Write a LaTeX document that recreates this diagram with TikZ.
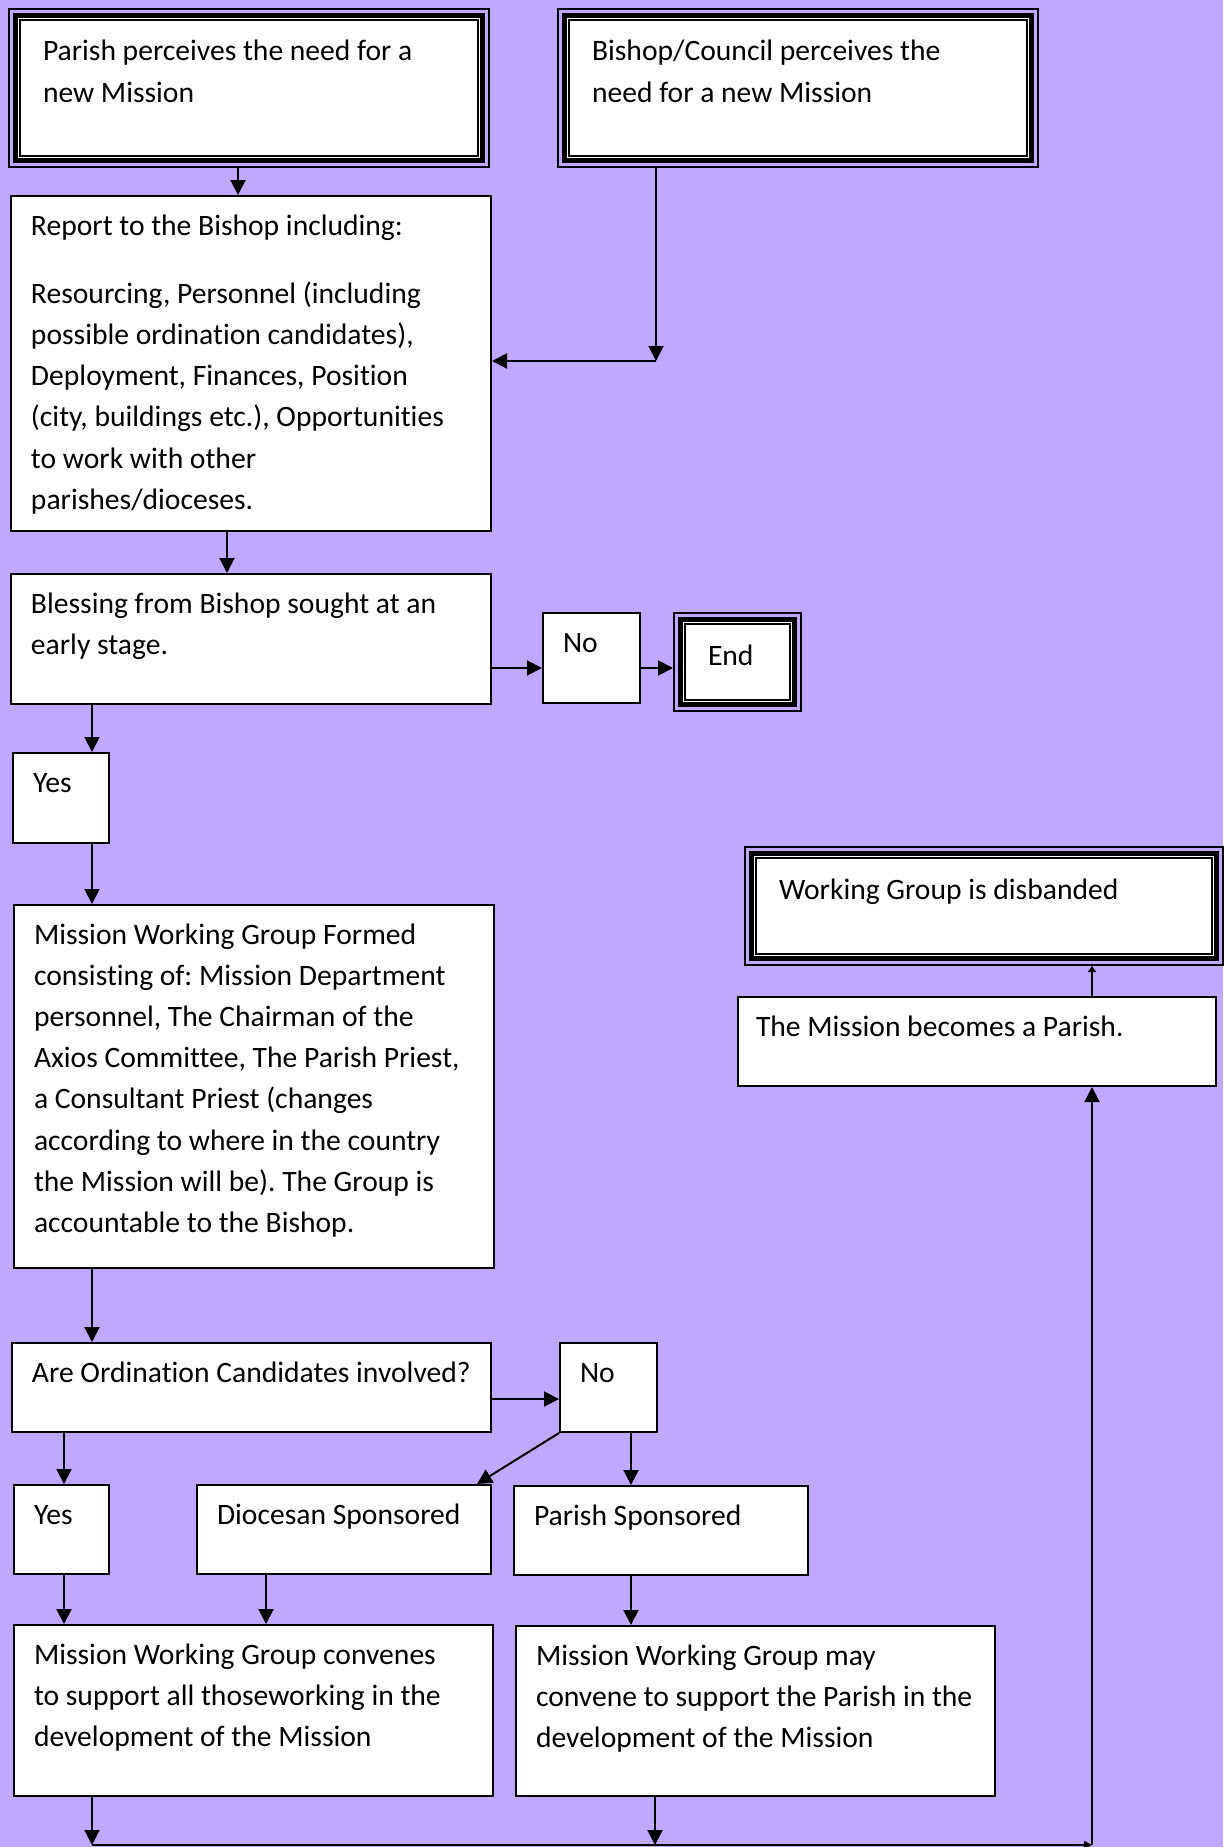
\documentclass[tikz,border=0pt]{standalone}
\usepackage{fontspec}
\setmainfont{Carlito}[Ligatures=NoCommon]
\usetikzlibrary{arrows.meta}
\definecolor{lilac}{RGB}{192,168,255}
\frenchspacing
\begin{document}
\begin{tikzpicture}[x=0.5pt,y=-0.5pt,line width=1pt,
    >={Triangle[length=7.5pt,width=7.5pt]},
    box/.style={draw, fill=white, anchor=north west, align=flush left,
        inner xsep=10pt, inner ysep=0pt, text height=19.5pt,
        font=\fontsize{14.8pt}{20.6pt}\selectfont},
    frame/.style={box, fill=none, inner xsep=17pt, text height=26pt,
        path picture={
            \draw[line width=2.5pt, fill=white] ([shift={(3.2pt,-3.2pt)}]path picture bounding box.north west) rectangle ([shift={(-3.2pt,3.2pt)}]path picture bounding box.south east);
            \draw ([shift={(5.7pt,-5.7pt)}]path picture bounding box.north west) rectangle ([shift={(-5.7pt,5.7pt)}]path picture bounding box.south east);
        }}]
    \useasboundingbox (0,0) rectangle (1223,1847);
    \fill [lilac] (0,0) rectangle (1223,1847);

    \node [frame, text width=206pt, text depth=53pt] (par) at (8,8) {Parish perceives the need for a\\new Mission};
    \node [frame, text width=206pt, text depth=53pt] (bish) at (557,8) {Bishop/Council perceives the\\need for a new Mission};
    \node [box, text width=220pt, text depth=148pt] (rep) at (10,195) {Report to the Bishop including:\\[13.5pt]Resourcing, Personnel (including\\possible ordination candidates),\\Deployment, Finances, Position\\(city, buildings etc.), Opportunities\\to work with other\\parishes/dioceses.};
    \node [box, text width=220pt, text depth=45.5pt] (bless) at (10,573) {Blessing from Bishop sought at an\\early stage.};
    \node [box, text width=28.5pt, text depth=25.5pt] (no1) at (542,612) {No};
    \node [frame, text width=29.5pt, text depth=23pt] (fin) at (673,612) {End};
    \node [box, text width=28pt, text depth=25.5pt] (yes1) at (12,752) {Yes};
    \node [box, text width=220pt, text depth=162pt] (mwg) at (13,904) {Mission Working Group Formed\\consisting of: Mission Department\\personnel, The Chairman of the\\Axios Committee, The Parish Priest,\\a Consultant Priest (changes\\according to where in the country\\the Mission will be). The Group is\\accountable to the Bishop.};
    \node [frame, text width=205pt, text depth=33pt] (disb) at (744,846) {Working Group is disbanded};
    \node [box, inner xsep=9pt, text width=221pt, text depth=25pt] (parb) at (737,996) {The Mission becomes a Parish.};
    \node [box, text width=219.5pt, text depth=25pt] (ord) at (11,1342) {\mbox{Are Ordination Candidates involved?}};
    \node [box, text width=28.5pt, text depth=25pt] (no2) at (559,1342) {No};
    \node [box, text width=27.5pt, text depth=25pt] (yes2) at (13,1484) {Yes};
    \node [box, text width=127pt, text depth=25pt] (dio) at (196,1484) {Diocesan Sponsored};
    \node [box, text width=127pt, text depth=25pt] (pspo) at (513,1485) {Parish Sponsored};
    \node [box, text width=219.5pt, text depth=66pt] (conv) at (13,1624) {Mission Working Group convenes\\to support all thoseworking in the\\development of the Mission};
    \node [box, text width=219.5pt, text depth=65.5pt] (may) at (515,1625) {Mission Working Group may\\\mbox{convene to support the Parish in the}\\development of the Mission};

    \coordinate (j1) at (656,361);
    \coordinate (h1) at (0,668);
    \coordinate (h2) at (0,1399);
    \coordinate (v1) at (92,0);
    \coordinate (v2) at (64,0);
    \coordinate (v3) at (631,0);
    \coordinate (v4) at (266,0);
    \coordinate (v5) at (227,0);
    \coordinate (v6) at (238,0);
    \coordinate (c1) at (92,1845);
    \coordinate (c2) at (655,1845);
    \coordinate (c3) at (1092,1845);

    \draw [->] (v6 |- par.south) -- (v6 |- rep.north);
    \draw [->] (j1 |- bish.south) -- (j1);
    \draw [->] (j1) -- (rep.east |- j1);
    \draw [->] (v5 |- rep.south) -- (v5 |- bless.north);
    \draw [->] (bless.east |- h1) -- (no1.west |- h1);
    \draw [->] (no1.east |- h1) -- (fin.west |- h1);
    \draw [->] (v1 |- bless.south) -- (v1 |- yes1.north);
    \draw [->] (v1 |- yes1.south) -- (v1 |- mwg.north);
    \draw [->] (v1 |- mwg.south) -- (v1 |- ord.north);
    \draw [->] (ord.east |- h2) -- (no2.west |- h2);
    \draw [->] (v2 |- ord.south) -- (v2 |- yes2.north);
    \draw [->] (no2.south west) -- ([xshift=-7.5pt]dio.north east);
    \draw [->] (v3 |- no2.south) -- (v3 |- pspo.north);
    \draw [->] (v2 |- yes2.south) -- (v2 |- conv.north);
    \draw [->] (v4 |- dio.south) -- (v4 |- conv.north);
    \draw [->] (v3 |- pspo.south) -- (v3 |- may.north);
    \draw [->] (conv.south -| c1) -- (c1);
    \draw [->] (may.south -| c2) -- (c2);
    \draw [-{Triangle[length=4pt,width=4pt]}] (c1) -- (c3);
    \draw [->] (c3) -- (c3 |- parb.south);
    \draw [-{Triangle[length=3pt,width=4pt]}] (c3 |- parb.north) -- (c3 |- disb.south);
\end{tikzpicture}
\end{document}
